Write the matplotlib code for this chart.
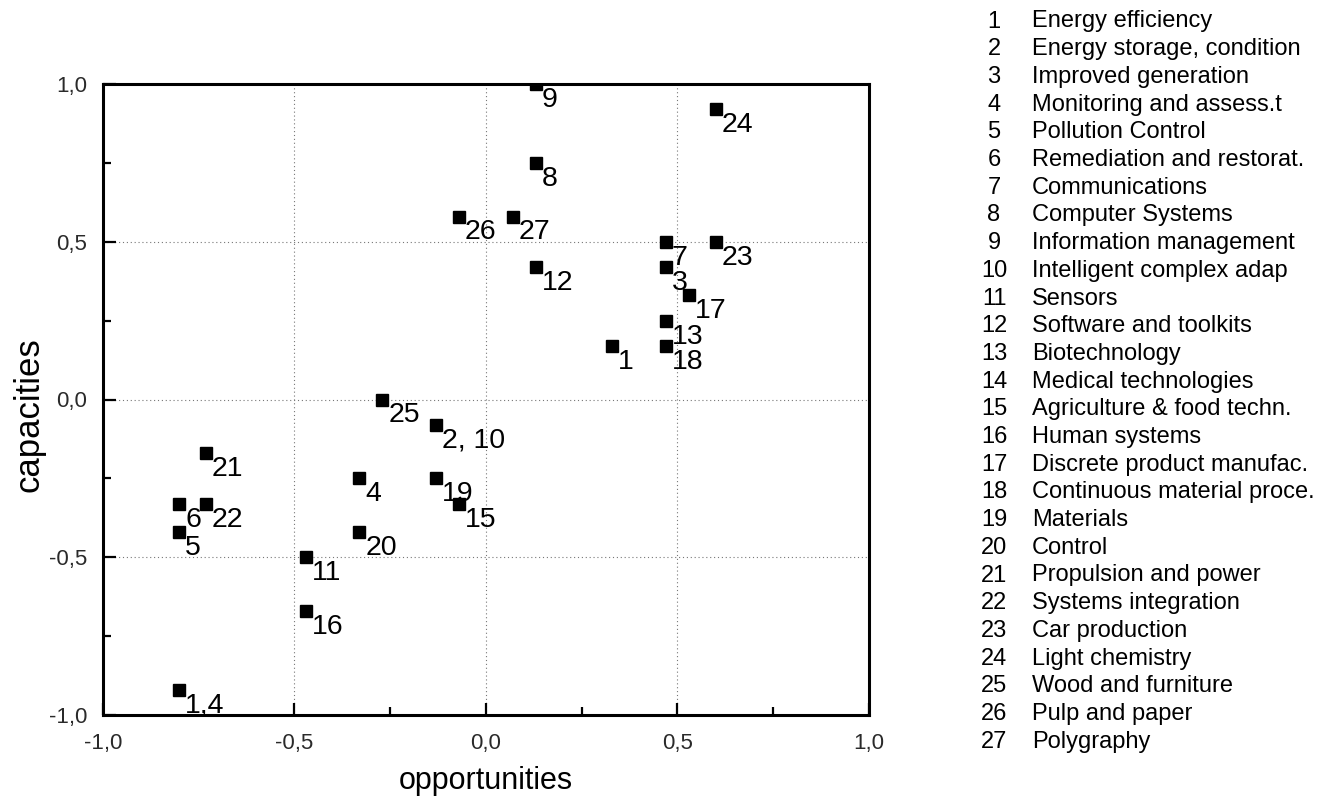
import matplotlib
matplotlib.use('Agg')
import matplotlib.pyplot as plt
from matplotlib import font_manager as fm
from matplotlib.ticker import FixedLocator, FuncFormatter

# ---- data ----
point_labels = ["1", "2, 10", "3", "4", "5", "6", "7", "8", "9", "11", "12", "13",
                "1,4", "15", "16", "17", "18", "19", "20", "21", "22", "23", "24",
                "25", "26", "27"]
opportunities = [0.33, -0.13, 0.47, -0.33, -0.80, -0.80, 0.47, 0.13, 0.13, -0.47,
                 0.13, 0.47, -0.80, -0.07, -0.47, 0.53, 0.47, -0.13, -0.33, -0.73,
                 -0.73, 0.60, 0.60, -0.27, -0.07, 0.07]
capacities = [0.17, -0.08, 0.42, -0.25, -0.42, -0.33, 0.50, 0.75, 1.00, -0.50,
              0.42, 0.25, -0.92, -0.33, -0.67, 0.33, 0.17, -0.25, -0.42, -0.17,
              -0.33, 0.50, 0.92, 0.00, 0.58, 0.58]
legend_names = ["Energy efficiency", "Energy storage, condition", "Improved generation",
                "Monitoring and assess.t", "Pollution Control", "Remediation and restorat.",
                "Communications", "Computer Systems", "Information management",
                "Intelligent complex adap", "Sensors", "Software and toolkits",
                "Biotechnology", "Medical technologies", "Agriculture & food techn.",
                "Human systems", "Discrete product manufac.", "Continuous material proce.",
                "Materials", "Control", "Propulsion and power", "Systems integration",
                "Car production", "Light chemistry", "Wood and furniture",
                "Pulp and paper", "Polygraphy"]
major_ticks = [-1.0, -0.5, 0.0, 0.5, 1.0]
x_minor_ticks = [-0.25, 0.25, 0.75]
y_minor_ticks = [-0.75, -0.25, 0.25, 0.75]

W, H = 1335, 809
plt.rcParams['font.family'] = ['Liberation Sans', 'DejaVu Sans']

fig = plt.figure(figsize=(W / 100, H / 100), dpi=100)
ax = fig.add_axes([102.7 / W, 1 - 715 / H, (869 - 102.7) / W, (715 - 84) / H])

ax.plot(opportunities, capacities, linestyle='none', marker='s', ms=8.6,
        color='black', clip_on=True, zorder=3)
for lbl, x, y in zip(point_labels, opportunities, capacities):
    ax.annotate(lbl, (x, y), xytext=(4.3, -16.5), textcoords='offset points',
                ha='left', va='baseline', fontsize=20.5, color='black',
                annotation_clip=False, zorder=4)

ax.set_xlim(-1, 1)
ax.set_ylim(-1, 1)
fmt = FuncFormatter(lambda v, p: ("%.1f" % v).replace('.', ','))
ax.xaxis.set_major_locator(FixedLocator(major_ticks))
ax.yaxis.set_major_locator(FixedLocator(major_ticks))
ax.xaxis.set_minor_locator(FixedLocator(x_minor_ticks))
ax.yaxis.set_minor_locator(FixedLocator(y_minor_ticks))
ax.xaxis.set_major_formatter(fmt)
ax.yaxis.set_major_formatter(fmt)

ax.tick_params(which='both', direction='in', top=False, right=False, color='black')
ax.tick_params(which='major', length=9, width=1.6, labelsize=16, labelcolor='#2a2a2a')
ax.tick_params(axis='y', which='major', pad=11)
ax.tick_params(axis='x', which='major', pad=13)
ax.tick_params(which='minor', length=5.5, width=1.6)
for s in ax.spines.values():
    s.set_linewidth(2.2)
    s.set_color('black')
ax.grid(True, which='major', linestyle=(0, (1, 2.5)), color='#777777', linewidth=0.8)

# axis labels
names = {f.name for f in fm.fontManager.ttflist}
if 'Liberation Sans Narrow' in names:
    fig.text(486 / W, 1 - 790 / H, 'opportunities', ha='center', va='baseline',
             fontsize=26, family=['Liberation Sans Narrow', 'DejaVu Sans'])
else:
    fig.text(486 / W, 1 - 789 / H, 'opportunities', ha='center', va='baseline',
             fontsize=22)
fig.text(29 / W, 1 - 415 / H, 'capacities', rotation=90, ha='center', va='center',
         fontsize=25)

# numbered legend on the right
for i, name in enumerate(legend_names):
    yb = 1 - (27.5 + i * 27.7) / H
    fig.text(994 / W, yb, str(i + 1), ha='center', va='baseline', fontsize=17)
    fig.text(1031.7 / W, yb, name, ha='left', va='baseline', fontsize=17)

fig.savefig('out.png', dpi=100)
